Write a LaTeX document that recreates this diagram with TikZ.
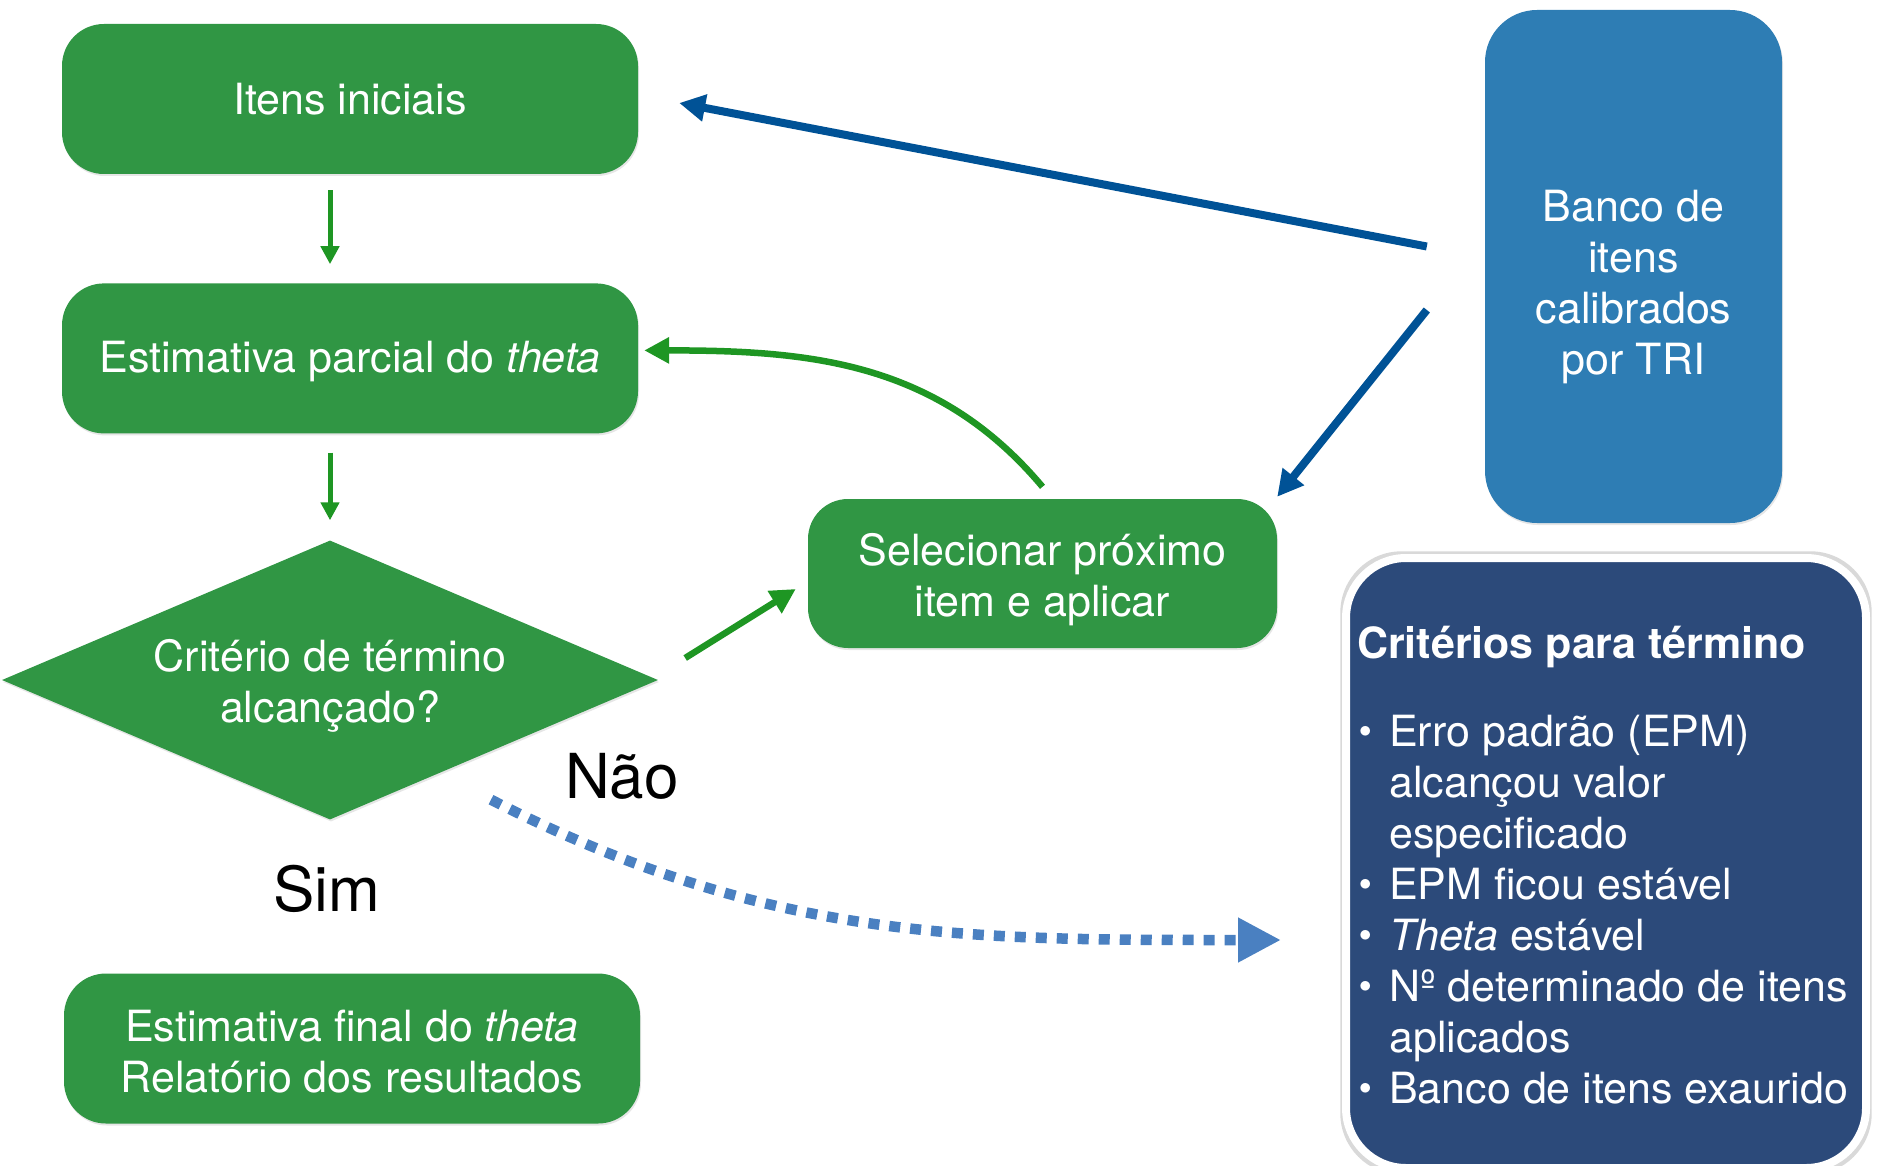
\documentclass[tikz,border=0pt]{standalone}
\usepackage{fontspec}
\setmainfont{TeX Gyre Heros}
\usetikzlibrary{positioning,shapes.geometric,arrows.meta,shadows}

\definecolor{boxgreen}{RGB}{48,150,68}
\definecolor{arrowgreen}{RGB}{30,150,35}
\definecolor{bankblue}{RGB}{46,125,180}
\definecolor{critnavy}{RGB}{44,74,122}
\definecolor{arrowblue}{RGB}{0,82,150}
\definecolor{dotblue}{RGB}{74,128,193}

\newcommand{\boxfont}{\fontsize{43}{51}\selectfont}
\newcommand{\answerfont}{\fontsize{62}{70}\selectfont}
\newcommand{\critbullet}{\makebox[32pt][l]{\hspace{2pt}\raisebox{9pt}{\fontsize{24}{24}\selectfont$\bullet$}}}
\newcommand{\critindent}{\hspace*{32pt}}
\newcommand{\lowered}[2][-7pt]{\raisebox{#1}[\height][\depth]{\begin{tabular}{@{}c@{}}#2\end{tabular}}}

\tikzstyle{cat flow}=[
    x=1pt, y=-1pt,
    every node/.style={text=white, font=\boxfont, align=center, inner sep=0pt},
]
\tikzstyle{greenbox}=[rectangle, rounded corners=42pt, fill=boxgreen,
    minimum width=576pt, minimum height=150pt,
    drop shadow={opacity=0.2, shadow xshift=1pt, shadow yshift=-2pt}]
\tikzstyle{decision}=[diamond, shape aspect=2.35, fill=boxgreen,
    minimum width=656pt, minimum height=279pt,
    drop shadow={opacity=0.2, shadow xshift=1pt, shadow yshift=-2pt}]
\tikzstyle{bankbox}=[rectangle, rounded corners=52pt, fill=bankblue,
    minimum width=297pt, minimum height=513pt,
    drop shadow={opacity=0.2, shadow xshift=1pt, shadow yshift=-2pt}]
\tikzstyle{critbox}=[rectangle, rounded corners=60pt, fill=critnavy, draw=white, line width=8pt,
    minimum width=520pt, minimum height=610pt,
    drop shadow={opacity=1, fill=gray!30, shadow xshift=0pt, shadow yshift=0pt, shadow scale=1.022}]
\tikzstyle{flow green}=[color=arrowgreen, line width=5pt, -{Triangle[length=18pt,width=18pt]}]
\tikzstyle{thick arrow}=[line width=6.5pt, -{Triangle[length=25pt,width=25pt]}]
\tikzstyle{flow blue}=[color=arrowblue, line width=8pt, -{Triangle[length=26pt,width=26pt]}]
\tikzstyle{flow dotted}=[draw=dotblue, line width=10.5pt, dash pattern=on 11pt off 10pt,
    -{Triangle[length=43pt,width=42pt]}]

\begin{document}
\begin{tikzpicture}[cat flow]
    \useasboundingbox (0,0) rectangle (1878,1166);

    \node[greenbox] (itens) at (350,99) {Itens iniciais};
    \node[greenbox, below=109pt of itens] (parcial) {\lowered[-4pt]{Estimativa parcial do \textit{theta}}};
    \node[decision] (fim) at (330,680) {\lowered{Critério de término\\alcançado?}};
    \node[greenbox, minimum width=469pt, minimum height=149pt, rounded corners=40pt] (selecao) at (1042.5,573.5) {\lowered{Selecionar próximo\\item e aplicar}};
    \node[greenbox] (final) at (352,1048.5) {\lowered[-8pt]{Estimativa final do \textit{theta}\\Relatório dos resultados}};
    \node[bankbox] (banco) at (1633.5,266.5) {};
    \node (bancotxt) at ([yshift=-21pt]banco.center) {Banco de\\itens\\calibrados\\por TRI};
    \node[critbox] (crit) at (1606,863) {};
    \node[align=left, anchor=base west] (crittxt) at (1357,1103) {%
        \textbf{Critérios para término}\\[37pt]
        \critbullet Erro padrão (EPM)\\
        \critindent alcançou valor\\
        \critindent especificado\\
        \critbullet EPM ficou estável\\
        \critbullet \textit{Theta} estável\\
        \critbullet Nº determinado de itens\\
        \critindent aplicados\\
        \critbullet Banco de itens exaurido};

    \node[text=black, font=\answerfont] (nao) at (622,776) {Não};
    \node[text=black, font=\answerfont] (sim) at (327,889) {Sim};

    \path[flow green]
        ([yshift=-16pt]itens.south -| fim.north) edge[] ([yshift=19pt]parcial.north -| fim.north)
        ([yshift=-19pt]parcial.south -| fim.north) edge[] ([yshift=20pt]fim.north)
        ([xshift=27pt,yshift=22pt]fim.east) edge[thick arrow] ([xshift=-12pt,yshift=-15.5pt]selecao.west)
        ([yshift=12pt]selecao.north) edge[thick arrow, out=130, in=0] ([xshift=6pt,yshift=8pt]parcial.east)
    ;
    \path[flow blue]
        ([xshift=-58pt,yshift=20pt]banco.west) edge[] ([xshift=41pt,yshift=-4pt]itens.east)
        ([xshift=-58pt,yshift=-43.5pt]banco.west) edge[] ([yshift=2pt]selecao.north east)
    ;
    \draw[flow dotted] ([xshift=161pt,yshift=20pt]fim.south) to[out=-27, in=180] ([xshift=-61pt,yshift=-77pt]crit.west);
\end{tikzpicture}
\end{document}
